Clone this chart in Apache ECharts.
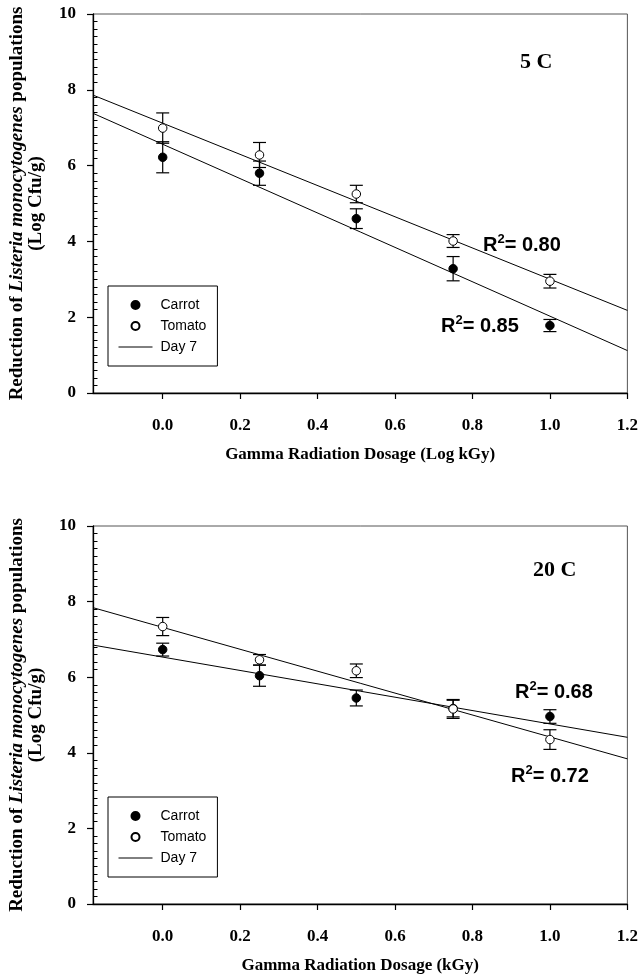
<!DOCTYPE html>
<html>
<head>
<meta charset="utf-8">
<script src="https://cdn.jsdelivr.net/npm/echarts/dist/echarts.min.js"></script>
<style>
html,body{margin:0;padding:0;background:#fff;}
#c{width:641px;height:979px;}
</style>
</head>
<body>
<div id="c"></div>
<script>
// ---- data ----
const doses = [0.0, 0.25, 0.5, 0.75, 1.0];
const xTicks = [0.0, 0.2, 0.4, 0.6, 0.8, 1.0, 1.2];
const yTicks = [0, 2, 4, 6, 8, 10];

// 5 C
const carrot5 = [6.22, 5.80, 4.60, 3.28, 1.78];
const carrot5Err = [0.41, 0.32, 0.26, 0.32, 0.16];
const tomato5 = [6.99, 6.28, 5.25, 4.01, 2.95];
const tomato5Err = [0.40, 0.33, 0.23, 0.17, 0.18];
// 20 C
const carrot20 = [6.73, 6.04, 5.45, 5.17, 4.96];
const carrot20Err = [0.17, 0.28, 0.21, 0.22, 0.18];
const tomato20 = [7.34, 6.46, 6.17, 5.16, 4.35];
const tomato20Err = [0.24, 0.14, 0.18, 0.25, 0.26];

// regression (Day 7) lines: values at the two ends of the x range
const fitX = [-0.18, 1.2];
const fit5Carrot = [7.38, 1.12];
const fit5Tomato = [7.86, 2.18];
const fit20Carrot = [6.85, 4.41];
const fit20Tomato = [7.84, 3.84];

const r2Labels5 = ['0.80', '0.85'];
const r2Labels20 = ['0.68', '0.72'];
const panelTitles = ['5 C', '20 C'];
const xTitles = ['Gamma Radiation Dosage (Log kGy)', 'Gamma Radiation Dosage (kGy)'];
const yTitle = 'Reduction of {i|Listeria monocytogenes} populations\n(Log Cfu/g)';
const legendNames = ['Carrot', 'Tomato', 'Day 7'];

// ---- helpers ----
const SERIF = '"Liberation Serif", "Times New Roman", serif';
const SANS = '"Liberation Sans", Arial, sans-serif';

function pts(ys){ return doses.map((x,i)=>[x, ys[i]]); }
function errs(ys, es){ return doses.map((x,i)=>[x, ys[i]-es[i], ys[i]+es[i]]); }
function fitPts(f){ return fitX.map((x,i)=>[x, f[i]]); }

function errRender(params, api){
  const x = api.value(0), lo = api.value(1), hi = api.value(2);
  const p1 = api.coord([x, hi]), p2 = api.coord([x, lo]);
  const hw = 6.5;
  const st = {stroke:'#000', lineWidth:1.2, fill:null};
  return {type:'group', children:[
    {type:'line', shape:{x1:p1[0], y1:p1[1], x2:p2[0], y2:p2[1]}, style:st},
    {type:'line', shape:{x1:p1[0]-hw, y1:p1[1], x2:p1[0]+hw, y2:p1[1]}, style:st},
    {type:'line', shape:{x1:p2[0]-hw, y1:p2[1], x2:p2[0]+hw, y2:p2[1]}, style:st}
  ]};
}

function xAxisCfg(i){
  return {
    type:'value', gridIndex:i, min:fitX[0], max:fitX[1],
    axisLine:{show:true, onZero:false, lineStyle:{color:'#000', width:1.3}},
    axisTick:{show:true, length:6, customValues:xTicks, lineStyle:{color:'#000', width:1.2}},
    axisLabel:{customValues:xTicks, formatter:v=>v.toFixed(1), margin:24,
      fontFamily:SERIF, fontWeight:'bold', fontSize:17, color:'#000'},
    splitLine:{show:false},
    name:xTitles[i], nameLocation:'middle', nameGap:53,
    nameTextStyle:{fontFamily:SERIF, fontWeight:'bold', fontSize:17, color:'#000'}
  };
}
function yAxisCfg(i){
  return {
    type:'value', gridIndex:i, min:yTicks[0], max:yTicks[yTicks.length-1], interval:2,
    axisLine:{show:true, onZero:false, lineStyle:{color:'#000', width:1.3}},
    axisTick:{show:true, length:6, lineStyle:{color:'#000', width:1.2}},
    minorTick:{show:true, splitNumber:10, length:-4.5, lineStyle:{color:'#000', width:1}},
    splitLine:{show:false}, minorSplitLine:{show:false},
    axisLabel:{margin:17, fontFamily:SERIF, fontWeight:'bold', fontSize:17, color:'#000'},
    name:yTitle, nameLocation:'middle', nameRotate:90, nameGap:47,
    nameTextStyle:{fontFamily:SERIF, fontWeight:'bold', fontSize:19, lineHeight:19, color:'#000',
      rich:{i:{fontFamily:SERIF, fontWeight:'bold', fontStyle:'italic', fontSize:19, lineHeight:19, color:'#000'}}}
  };
}

function panelSeries(i, carrot, cErr, tomato, tErr, fC, fT){
  const ax = {xAxisIndex:i, yAxisIndex:i};
  return [
    Object.assign({name:'Day 7', type:'line', data:fitPts(fC), symbol:'none', showSymbol:false, z:2,
      lineStyle:{color:'#000', width:1}, itemStyle:{color:'#000'}}, ax),
    Object.assign({name:'Day 7', type:'line', data:fitPts(fT), symbol:'none', showSymbol:false, z:2,
      lineStyle:{color:'#000', width:1}, itemStyle:{color:'#000'}}, ax),
    Object.assign({name:'errC'+i, type:'custom', data:errs(carrot, cErr), renderItem:errRender, z:3,
      encode:{x:0, y:[1,2]}}, ax),
    Object.assign({name:'errT'+i, type:'custom', data:errs(tomato, tErr), renderItem:errRender, z:3,
      encode:{x:0, y:[1,2]}}, ax),
    Object.assign({name:'Carrot', type:'scatter', data:pts(carrot), symbol:'circle', symbolSize:8.5, z:5,
      itemStyle:{color:'#000', borderColor:'#000', borderWidth:1, opacity:1}}, ax),
    Object.assign({name:'Tomato', type:'scatter', data:pts(tomato), symbol:'circle', symbolSize:8.5, z:5,
      itemStyle:{color:'#fff', borderColor:'#000', borderWidth:1, opacity:1}}, ax)
  ];
}

function legendCfg(top){
  return {
    left:108, top:top, orient:'vertical', selectedMode:false,
    data:[legendNames[0], legendNames[1],
      {name:legendNames[2], itemStyle:{opacity:0}, lineStyle:{color:'#000', width:1, opacity:1}}],
    itemWidth:34, itemHeight:8, itemGap:5,
    padding:[11,11,11,10],
    borderColor:'#000', borderWidth:1, backgroundColor:'#fff',
    textStyle:{fontFamily:SANS, fontSize:14, lineHeight:16, color:'#000', padding:[0,0,0,3]}
  };
}

const richR = {
  m:{fontFamily:SANS, fontWeight:'bold', fontSize:20, verticalAlign:'bottom', fill:'#000'},
  s:{fontFamily:SANS, fontWeight:'bold', fontSize:13, verticalAlign:'bottom', padding:[0,0,9,0], fill:'#000'}
};
function r2Text(x, y, val){
  return {type:'text', x:x, y:y, z:50,
    style:{text:'{m|R}{s|2}{m|= '+val+'}', rich:richR, align:'left', verticalAlign:'middle', fill:'#000'}};
}
function titleText(x, y, t){
  return {type:'text', x:x, y:y, z:50,
    style:{text:t, fontFamily:SERIF, fontWeight:'bold', fontSize:22, fill:'#000', align:'left', verticalAlign:'middle'}};
}

const option = {
  animation:false,
  backgroundColor:'#fff',
  grid:[
    {left:92, top:14, width:537, height:379, show:true, borderColor:'#555', borderWidth:1, backgroundColor:'transparent'},
    {left:92, top:526, width:537, height:378, show:true, borderColor:'#555', borderWidth:1, backgroundColor:'transparent'}
  ],
  xAxis:[xAxisCfg(0), xAxisCfg(1)],
  yAxis:[yAxisCfg(0), yAxisCfg(1)],
  legend:[legendCfg(286), legendCfg(797)],
  series:[].concat(
    panelSeries(0, carrot5, carrot5Err, tomato5, tomato5Err, fit5Carrot, fit5Tomato),
    panelSeries(1, carrot20, carrot20Err, tomato20, tomato20Err, fit20Carrot, fit20Tomato)
  ),
  graphic:[
    titleText(520, 62, panelTitles[0]),
    titleText(533, 570, panelTitles[1]),
    r2Text(483, 244, r2Labels5[0]),
    r2Text(441, 325, r2Labels5[1]),
    r2Text(515, 691, r2Labels20[0]),
    r2Text(511, 775, r2Labels20[1])
  ]
};

const chart = echarts.init(document.getElementById('c'), null, {renderer:'canvas'});
chart.setOption(option);
</script>
</body>
</html>
